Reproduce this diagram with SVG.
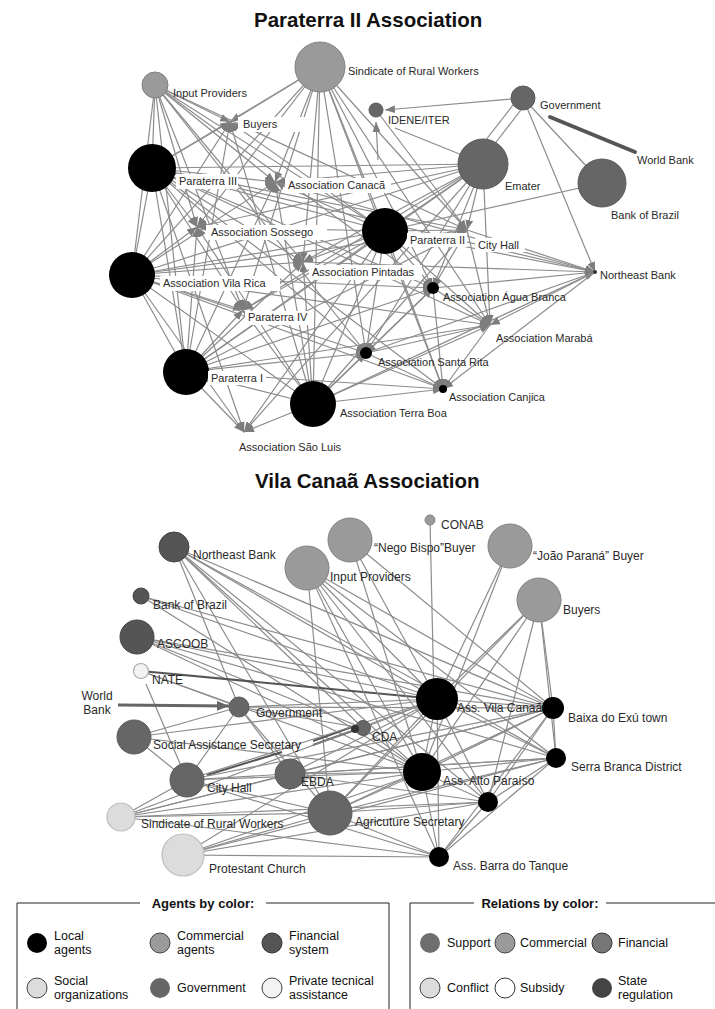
<svg xmlns="http://www.w3.org/2000/svg" width="715" height="1009" viewBox="0 0 715 1009">
<defs>
<marker id="arr" markerUnits="userSpaceOnUse" markerWidth="10" markerHeight="8" refX="10" refY="4" orient="auto"><path d="M0,0 L10,4 L0,8 Z" fill="#7d7d7d"/></marker>
<marker id="arrd" markerUnits="userSpaceOnUse" markerWidth="12" markerHeight="10" refX="12" refY="5" orient="auto"><path d="M0,0 L12,5 L0,10 Z" fill="#666"/></marker>
<style>
.t{font-family:"Liberation Sans",Arial,sans-serif;font-weight:bold;font-size:20.5px;fill:#111}
.l{font-family:"Liberation Sans",Arial,sans-serif;font-size:11px;fill:#2a2a2a}
.lb{font-family:"Liberation Sans",Arial,sans-serif;font-size:12px;fill:#2a2a2a}
.lg{font-family:"Liberation Sans",Arial,sans-serif;font-size:12.5px;fill:#111}
.lgt{font-family:"Liberation Sans",Arial,sans-serif;font-size:13px;font-weight:bold;fill:#111}
.e line{stroke:#8c8c8c;stroke-width:1.2;fill:none}
.e line.a{marker-end:url(#arr)}
.e line.d{stroke:#555;stroke-width:2}
.wb{fill:#fff}
.loc{fill:#000}
.com{fill:#9a9a9a;stroke:#808080;stroke-width:1}
.fin{fill:#555;stroke:#444;stroke-width:1}
.gov{fill:#666;stroke:#5a5a5a;stroke-width:1}
.soc{fill:#dcdcdc;stroke:#bdbdbd;stroke-width:1.2}
.pri{fill:#f3f3f3;stroke:#aaa;stroke-width:1.2}
.box{stroke:#222;stroke-width:1;fill:none}
</style>
</defs>
<rect width="715" height="1009" fill="#fff"/>
<text class="t" x="254" y="27">Paraterra II Association</text>
<text class="t" x="255" y="488">Vila Canaã Association</text>

<g id="connectors-top" class="e">
<line x1="320" y1="67" x2="230" y2="122" class="a"/>
<line x1="320" y1="67" x2="275" y2="182" class="a"/>
<line x1="320" y1="67" x2="197" y2="227" class="a"/>
<line x1="320" y1="67" x2="303" y2="262" class="a"/>
<line x1="320" y1="67" x2="385" y2="231"/>
<line x1="320" y1="67" x2="467" y2="230" class="a"/>
<line x1="320" y1="67" x2="243" y2="310" class="a"/>
<line x1="320" y1="67" x2="433" y2="288" class="a"/>
<line x1="320" y1="67" x2="490" y2="325" class="a"/>
<line x1="320" y1="67" x2="366" y2="353" class="a"/>
<line x1="320" y1="67" x2="152" y2="168"/>
<line x1="320" y1="67" x2="132" y2="275"/>
<line x1="320" y1="67" x2="443" y2="389" class="a"/>
<line x1="320" y1="67" x2="313" y2="404"/>
<line x1="155" y1="85" x2="230" y2="122" class="a"/>
<line x1="155" y1="85" x2="275" y2="182" class="a"/>
<line x1="155" y1="85" x2="197" y2="227" class="a"/>
<line x1="155" y1="85" x2="303" y2="262" class="a"/>
<line x1="155" y1="85" x2="243" y2="310" class="a"/>
<line x1="155" y1="85" x2="385" y2="231"/>
<line x1="155" y1="85" x2="366" y2="353" class="a"/>
<line x1="155" y1="85" x2="467" y2="230" class="a"/>
<line x1="155" y1="85" x2="433" y2="288" class="a"/>
<line x1="155" y1="85" x2="152" y2="168"/>
<line x1="155" y1="85" x2="132" y2="275"/>
<line x1="155" y1="85" x2="186" y2="372"/>
<line x1="152" y1="168" x2="230" y2="122" class="a"/>
<line x1="152" y1="168" x2="275" y2="182" class="a"/>
<line x1="152" y1="168" x2="197" y2="227" class="a"/>
<line x1="152" y1="168" x2="303" y2="262" class="a"/>
<line x1="152" y1="168" x2="243" y2="310" class="a"/>
<line x1="152" y1="168" x2="467" y2="230" class="a"/>
<line x1="152" y1="168" x2="433" y2="288" class="a"/>
<line x1="152" y1="168" x2="490" y2="325" class="a"/>
<line x1="152" y1="168" x2="366" y2="353" class="a"/>
<line x1="152" y1="168" x2="443" y2="389" class="a"/>
<line x1="152" y1="168" x2="244" y2="432" class="a"/>
<line x1="152" y1="168" x2="385" y2="231"/>
<line x1="152" y1="168" x2="132" y2="275"/>
<line x1="152" y1="168" x2="186" y2="372"/>
<line x1="152" y1="168" x2="595" y2="272" class="a"/>
<line x1="385" y1="231" x2="275" y2="182" class="a"/>
<line x1="385" y1="231" x2="197" y2="227" class="a"/>
<line x1="385" y1="231" x2="303" y2="262" class="a"/>
<line x1="385" y1="231" x2="243" y2="310" class="a"/>
<line x1="385" y1="231" x2="467" y2="230" class="a"/>
<line x1="385" y1="231" x2="433" y2="288" class="a"/>
<line x1="385" y1="231" x2="490" y2="325" class="a"/>
<line x1="385" y1="231" x2="366" y2="353" class="a"/>
<line x1="385" y1="231" x2="443" y2="389" class="a"/>
<line x1="385" y1="231" x2="244" y2="432" class="a"/>
<line x1="385" y1="231" x2="595" y2="272" class="a"/>
<line x1="378" y1="160" x2="376" y2="122" class="a"/>
<line x1="385" y1="231" x2="230" y2="122" class="a"/>
<line x1="385" y1="231" x2="132" y2="275"/>
<line x1="385" y1="231" x2="186" y2="372"/>
<line x1="385" y1="231" x2="313" y2="404"/>
<line x1="132" y1="275" x2="230" y2="122" class="a"/>
<line x1="132" y1="275" x2="275" y2="182" class="a"/>
<line x1="132" y1="275" x2="197" y2="227" class="a"/>
<line x1="132" y1="275" x2="303" y2="262" class="a"/>
<line x1="132" y1="275" x2="243" y2="310" class="a"/>
<line x1="132" y1="275" x2="467" y2="230" class="a"/>
<line x1="132" y1="275" x2="433" y2="288" class="a"/>
<line x1="132" y1="275" x2="490" y2="325" class="a"/>
<line x1="132" y1="275" x2="366" y2="353" class="a"/>
<line x1="132" y1="275" x2="443" y2="389" class="a"/>
<line x1="132" y1="275" x2="244" y2="432" class="a"/>
<line x1="132" y1="275" x2="186" y2="372"/>
<line x1="132" y1="275" x2="313" y2="404"/>
<line x1="186" y1="372" x2="275" y2="182" class="a"/>
<line x1="186" y1="372" x2="197" y2="227" class="a"/>
<line x1="186" y1="372" x2="303" y2="262" class="a"/>
<line x1="186" y1="372" x2="243" y2="310" class="a"/>
<line x1="186" y1="372" x2="467" y2="230" class="a"/>
<line x1="186" y1="372" x2="433" y2="288" class="a"/>
<line x1="186" y1="372" x2="490" y2="325" class="a"/>
<line x1="186" y1="372" x2="366" y2="353" class="a"/>
<line x1="186" y1="372" x2="443" y2="389" class="a"/>
<line x1="186" y1="372" x2="244" y2="432" class="a"/>
<line x1="186" y1="372" x2="313" y2="404"/>
<line x1="186" y1="372" x2="230" y2="122" class="a"/>
<line x1="313" y1="404" x2="275" y2="182" class="a"/>
<line x1="313" y1="404" x2="197" y2="227" class="a"/>
<line x1="313" y1="404" x2="303" y2="262" class="a"/>
<line x1="313" y1="404" x2="243" y2="310" class="a"/>
<line x1="313" y1="404" x2="467" y2="230" class="a"/>
<line x1="313" y1="404" x2="433" y2="288" class="a"/>
<line x1="313" y1="404" x2="490" y2="325" class="a"/>
<line x1="313" y1="404" x2="366" y2="353" class="a"/>
<line x1="313" y1="404" x2="443" y2="389" class="a"/>
<line x1="313" y1="404" x2="244" y2="432" class="a"/>
<line x1="313" y1="404" x2="595" y2="272" class="a"/>
<line x1="313" y1="404" x2="230" y2="122" class="a"/>
<line x1="483" y1="164" x2="385" y2="231"/>
<line x1="483" y1="164" x2="467" y2="230" class="a"/>
<line x1="483" y1="164" x2="275" y2="182" class="a"/>
<line x1="483" y1="164" x2="152" y2="168"/>
<line x1="483" y1="164" x2="303" y2="262" class="a"/>
<line x1="483" y1="164" x2="197" y2="227" class="a"/>
<line x1="483" y1="164" x2="433" y2="288" class="a"/>
<line x1="483" y1="164" x2="366" y2="353" class="a"/>
<line x1="483" y1="164" x2="243" y2="310" class="a"/>
<line x1="483" y1="164" x2="132" y2="275"/>
<line x1="483" y1="164" x2="490" y2="325" class="a"/>
<line x1="483" y1="164" x2="186" y2="372"/>
<line x1="483" y1="164" x2="244" y2="432" class="a"/>
<line x1="523" y1="98" x2="385" y2="110" class="a"/>
<line x1="517" y1="100" x2="478" y2="150"/>
<line x1="527" y1="102" x2="490" y2="150"/>
<line x1="523" y1="98" x2="602" y2="183"/>
<line x1="523" y1="98" x2="595" y2="272" class="a"/>
<line x1="376" y1="110" x2="467" y2="230" class="a"/>
<line x1="395" y1="128" x2="462" y2="155"/>
<line x1="602" y1="183" x2="385" y2="231"/>
<line x1="467" y1="230" x2="595" y2="272" class="a"/>
<line x1="433" y1="288" x2="595" y2="272" class="a"/>
<line x1="303" y1="262" x2="595" y2="272" class="a"/>
<line x1="366" y1="353" x2="595" y2="272" class="a"/>
<line x1="275" y1="182" x2="595" y2="272" class="a"/>
<line x1="595" y1="272" x2="490" y2="325" class="a"/>
<line x1="595" y1="272" x2="443" y2="389" class="a"/>
<line x1="433" y1="288" x2="490" y2="325" class="a"/>
<line x1="366" y1="353" x2="490" y2="325" class="a"/>
<line x1="366" y1="353" x2="443" y2="389" class="a"/>
<line x1="433" y1="288" x2="443" y2="389" class="a"/>
<line x1="433" y1="288" x2="366" y2="353" class="a"/>
<line x1="490" y1="325" x2="443" y2="389" class="a"/>
<line x1="467" y1="230" x2="433" y2="288" class="a"/>
<line x1="467" y1="230" x2="490" y2="325" class="a"/>
<line x1="550" y1="117" x2="635" y2="152" style="stroke:#555;stroke-width:4;stroke-linecap:round"/>
</g>

<g id="node-sindicate-top"><circle cx="320" cy="67" r="25" class="com"/><text class="l" x="348" y="75">Sindicate of Rural Workers</text></g>
<g id="node-input-providers-top"><circle cx="155" cy="85" r="13" class="com"/><text class="l" x="173" y="97">Input Providers</text></g>
<g id="node-buyers-top"><rect class="wb" x="238" y="117" width="75" height="15"/><text class="l" x="243" y="128">Buyers</text></g>
<g id="node-idene"><circle cx="376" cy="110" r="7" class="gov"/><text class="l" x="388" y="124">IDENE/ITER</text></g>
<g id="node-government-top"><circle cx="523" cy="98" r="12" class="gov"/><text class="l" x="540" y="109">Government</text></g>
<g id="node-world-bank-top"><text class="l" x="637" y="164">World Bank</text></g>
<g id="node-emater"><circle cx="483" cy="164" r="25" class="gov"/><text class="l" x="505" y="190">Emater</text></g>
<g id="node-bank-of-brazil-top"><circle cx="602" cy="183" r="24" class="gov"/><text class="l" x="611" y="219">Bank of Brazil</text></g>
<g id="node-paraterra-3"><circle cx="152" cy="168" r="24" class="loc"/><rect class="wb" x="176" y="174" width="62" height="15"/><text class="l" x="179" y="185">Paraterra III</text></g>
<g id="node-canaca"><rect class="wb" x="285" y="178" width="106" height="15"/><text class="l" x="288" y="189">Association Canacã</text></g>
<g id="node-paraterra-2"><circle cx="385" cy="231" r="23" class="loc"/><rect class="wb" x="407" y="233" width="60" height="14"/><text class="l" x="410" y="244">Paraterra II</text></g>
<g id="node-city-hall-top"><rect class="wb" x="475" y="238" width="50" height="14"/><text class="l" x="478" y="249">City Hall</text></g>
<g id="node-sossego"><rect class="wb" x="206" y="225" width="121" height="15"/><text class="l" x="211" y="236">Association Sossego</text></g>
<g id="node-vila-rica"><circle cx="132" cy="275" r="23" class="loc"/><rect class="wb" x="160" y="276" width="120" height="15"/><text class="l" x="163" y="287">Association Vila Rica</text></g>
<g id="node-pintadas"><rect class="wb" x="309" y="265" width="113" height="15"/><text class="l" x="312" y="276">Association Pintadas</text></g>
<g id="node-northeast-bank-top"><circle cx="595" cy="272" r="2" fill="#333"/><text class="l" x="600" y="279">Northeast Bank</text></g>
<g id="node-agua-branca"><circle cx="433" cy="288" r="6" class="loc"/><text class="l" x="443" y="301">Association Água Branca</text></g>
<g id="node-paraterra-4"><rect class="wb" x="245" y="311" width="66" height="14"/><text class="l" x="248" y="321">Paraterra IV</text></g>
<g id="node-maraba"><text class="l" x="496" y="342">Association Marabá</text></g>
<g id="node-paraterra-1"><circle cx="186" cy="372" r="23" class="loc"/><rect class="wb" x="208" y="371" width="58" height="14"/><text class="l" x="211" y="382">Paraterra I</text></g>
<g id="node-santa-rita"><circle cx="366" cy="353" r="6" class="loc"/><text class="l" x="378" y="366">Association Santa Rita</text></g>
<g id="node-terra-boa"><circle cx="313" cy="404" r="23" class="loc"/><text class="l" x="340" y="417">Association Terra Boa</text></g>
<g id="node-canjica"><circle cx="443" cy="389" r="4" class="loc"/><text class="l" x="449" y="401">Association Canjica</text></g>
<g id="node-sao-luis"><text class="l" x="239" y="451">Association São Luis</text></g>

<g id="connectors-bottom" class="e">
<line x1="174" y1="547" x2="437" y2="699"/>
<line x1="174" y1="547" x2="422" y2="772"/>
<line x1="174" y1="547" x2="553" y2="708"/>
<line x1="174" y1="547" x2="556" y2="758"/>
<line x1="174" y1="547" x2="488" y2="802"/>
<line x1="174" y1="547" x2="239" y2="707"/>
<line x1="174" y1="547" x2="330" y2="813"/>
<line x1="174" y1="547" x2="363" y2="728"/>
<line x1="141" y1="596" x2="437" y2="699"/>
<line x1="141" y1="596" x2="422" y2="772"/>
<line x1="141" y1="596" x2="553" y2="708"/>
<line x1="137" y1="637" x2="437" y2="699"/>
<line x1="137" y1="637" x2="422" y2="772"/>
<line x1="137" y1="637" x2="553" y2="708"/>
<line x1="137" y1="637" x2="363" y2="728"/>
<line x1="137" y1="637" x2="556" y2="758"/>
<line x1="141" y1="671" x2="437" y2="699" class="d"/>
<line x1="141" y1="671" x2="422" y2="772"/>
<line x1="146" y1="684" x2="187" y2="780"/>
<line x1="141" y1="671" x2="239" y2="707"/>
<line x1="307" y1="568" x2="437" y2="699"/>
<line x1="307" y1="568" x2="422" y2="772"/>
<line x1="307" y1="568" x2="553" y2="708"/>
<line x1="307" y1="568" x2="556" y2="758"/>
<line x1="307" y1="568" x2="488" y2="802"/>
<line x1="307" y1="568" x2="439" y2="857"/>
<line x1="307" y1="568" x2="330" y2="813"/>
<line x1="350" y1="540" x2="437" y2="699"/>
<line x1="350" y1="540" x2="422" y2="772"/>
<line x1="350" y1="540" x2="553" y2="708"/>
<line x1="430" y1="520" x2="434" y2="699"/>
<line x1="510" y1="546" x2="437" y2="699"/>
<line x1="510" y1="546" x2="422" y2="772"/>
<line x1="539" y1="600" x2="437" y2="699"/>
<line x1="539" y1="600" x2="422" y2="772"/>
<line x1="539" y1="600" x2="553" y2="708"/>
<line x1="539" y1="600" x2="556" y2="758"/>
<line x1="539" y1="600" x2="488" y2="802"/>
<line x1="539" y1="600" x2="330" y2="813"/>
<line x1="239" y1="707" x2="134" y2="737"/>
<line x1="239" y1="707" x2="187" y2="780"/>
<line x1="239" y1="707" x2="363" y2="728"/>
<line x1="239" y1="707" x2="330" y2="813"/>
<line x1="239" y1="707" x2="437" y2="699"/>
<line x1="239" y1="707" x2="290" y2="774"/>
<line x1="239" y1="707" x2="553" y2="708"/>
<line x1="134" y1="737" x2="437" y2="699"/>
<line x1="134" y1="737" x2="187" y2="780"/>
<line x1="134" y1="737" x2="422" y2="772"/>
<line x1="363" y1="728" x2="437" y2="699"/>
<line x1="363" y1="728" x2="422" y2="772"/>
<line x1="207" y1="775" x2="282" y2="752" class="d"/>
<line x1="313" y1="745" x2="352" y2="731" class="d"/>
<line x1="313" y1="741" x2="352" y2="727" class="d"/>
<line x1="187" y1="780" x2="437" y2="699"/>
<line x1="187" y1="780" x2="422" y2="772"/>
<line x1="187" y1="780" x2="553" y2="708"/>
<line x1="187" y1="780" x2="330" y2="813"/>
<line x1="187" y1="780" x2="439" y2="857"/>
<line x1="187" y1="780" x2="556" y2="758"/>
<line x1="290" y1="774" x2="437" y2="699"/>
<line x1="290" y1="774" x2="422" y2="772"/>
<line x1="290" y1="774" x2="553" y2="708"/>
<line x1="290" y1="774" x2="556" y2="758"/>
<line x1="290" y1="774" x2="488" y2="802"/>
<line x1="121" y1="817" x2="437" y2="699"/>
<line x1="121" y1="817" x2="422" y2="772"/>
<line x1="121" y1="817" x2="330" y2="813"/>
<line x1="121" y1="817" x2="290" y2="774"/>
<line x1="121" y1="817" x2="187" y2="780"/>
<line x1="121" y1="817" x2="553" y2="708"/>
<line x1="121" y1="817" x2="488" y2="802"/>
<line x1="121" y1="817" x2="439" y2="857"/>
<line x1="330" y1="813" x2="437" y2="699"/>
<line x1="330" y1="813" x2="422" y2="772"/>
<line x1="330" y1="813" x2="553" y2="708"/>
<line x1="330" y1="813" x2="556" y2="758"/>
<line x1="330" y1="813" x2="488" y2="802"/>
<line x1="330" y1="813" x2="439" y2="857"/>
<line x1="183" y1="855" x2="439" y2="857"/>
<line x1="183" y1="855" x2="422" y2="772"/>
<line x1="183" y1="855" x2="437" y2="699"/>
<line x1="183" y1="855" x2="488" y2="802"/>
<line x1="183" y1="855" x2="330" y2="813"/>
<line x1="183" y1="855" x2="556" y2="758"/>
<line x1="437" y1="699" x2="422" y2="772"/>
<line x1="437" y1="699" x2="553" y2="708"/>
<line x1="437" y1="699" x2="556" y2="758"/>
<line x1="437" y1="699" x2="488" y2="802"/>
<line x1="437" y1="699" x2="439" y2="857"/>
<line x1="422" y1="772" x2="553" y2="708"/>
<line x1="422" y1="772" x2="556" y2="758"/>
<line x1="422" y1="772" x2="488" y2="802"/>
<line x1="422" y1="772" x2="439" y2="857"/>
<line x1="553" y1="708" x2="556" y2="758"/>
<line x1="553" y1="708" x2="488" y2="802"/>
<line x1="553" y1="708" x2="439" y2="857"/>
<line x1="556" y1="758" x2="488" y2="802"/>
<line x1="556" y1="758" x2="439" y2="857"/>
<line x1="488" y1="802" x2="439" y2="857"/>
<line x1="118" y1="705" x2="229" y2="706" style="stroke:#666;stroke-width:3;marker-end:url(#arrd)"/>
</g>

<g id="node-conab"><circle cx="430" cy="520" r="5" class="com"/><text class="lb" x="441" y="529">CONAB</text></g>
<g id="node-nego-bispo"><circle cx="350" cy="540" r="22" class="com"/><text class="lb" x="374" y="552">“Nego Bispo”Buyer</text></g>
<g id="node-joao-parana"><circle cx="510" cy="546" r="22" class="com"/><text class="lb" x="533" y="560">“João Paraná” Buyer</text></g>
<g id="node-input-providers-bottom"><circle cx="307" cy="568" r="22" class="com"/><text class="lb" x="330" y="581">Input Providers</text></g>
<g id="node-northeast-bank-bottom"><circle cx="174" cy="547" r="15" class="fin"/><text class="lb" x="193" y="559">Northeast Bank</text></g>
<g id="node-bank-of-brazil-bottom"><circle cx="141" cy="596" r="8" class="fin"/><text class="lb" x="153" y="609">Bank of Brazil</text></g>
<g id="node-buyers-bottom"><circle cx="539" cy="600" r="22" class="com"/><text class="lb" x="563" y="614">Buyers</text></g>
<g id="node-ascoob"><circle cx="137" cy="637" r="17" class="fin"/><text class="lb" x="157" y="648">ASCOOB</text></g>
<g id="node-nate"><circle cx="141" cy="671" r="7.5" class="pri"/><text class="lb" x="152" y="684">NATE</text></g>
<g id="node-world-bank-bottom"><text class="lb" x="97" y="700" text-anchor="middle">World</text><text class="lb" x="97" y="714" text-anchor="middle">Bank</text></g>
<g id="node-government-bottom"><circle cx="239" cy="707" r="10" class="gov"/><text class="lb" x="256" y="717">Government</text></g>
<g id="node-social-assistance"><circle cx="134" cy="737" r="17" class="gov"/><text class="lb" x="153" y="749">Social Assistance Secretary</text></g>
<g id="node-cda"><circle cx="363" cy="728" r="7.5" class="gov"/><circle cx="355" cy="729" r="4" fill="#333"/><text class="lb" x="372" y="741">CDA</text></g>
<g id="node-vila-canaa"><circle cx="437" cy="699" r="21" class="loc"/><text class="lb" x="457" y="712">Ass. Vila Canaã</text></g>
<g id="node-baixa"><circle cx="553" cy="708" r="11" class="loc"/><text class="lb" x="568" y="722">Baixa do Exú town</text></g>
<g id="node-serra-branca"><circle cx="556" cy="758" r="10" class="loc"/><text class="lb" x="571" y="771">Serra Branca District</text></g>
<g id="node-city-hall-bottom"><circle cx="187" cy="780" r="17" class="gov"/><text class="lb" x="207" y="792">City Hall</text></g>
<g id="node-ebda"><circle cx="290" cy="774" r="15" class="gov"/><text class="lb" x="301" y="786">EBDA</text></g>
<g id="node-alto-paraiso"><circle cx="422" cy="772" r="19" class="loc"/><text class="lb" x="443" y="785">Ass. Alto Paraíso</text></g>
<g id="node-sindicate-bottom"><circle cx="121" cy="817" r="14" class="soc"/><text class="lb" x="141" y="828">Sindicate of Rural Workers</text></g>
<g id="node-agriculture"><circle cx="330" cy="813" r="22" class="gov"/><text class="lb" x="355" y="826">Agricuture Secretary</text></g>
<g id="node-local-unnamed"><circle cx="488" cy="802" r="10" class="loc"/></g>
<g id="node-protestant"><circle cx="183" cy="855" r="21" class="soc"/><text class="lb" x="209" y="873">Protestant Church</text></g>
<g id="node-barra"><circle cx="439" cy="857" r="10" class="loc"/><text class="lb" x="453" y="870">Ass. Barra do Tanque</text></g>

<g id="legend-agents">
<path class="box" d="M140,903 H17 V1009 M266,903 H389 V1009"/>
<text class="lgt" x="203" y="908" text-anchor="middle">Agents by color:</text>
<circle cx="37" cy="943" r="10" class="loc"/><text class="lg" x="54" y="940">Local</text><text class="lg" x="54" y="954">agents</text>
<circle cx="160" cy="943" r="10" fill="#9a9a9a" stroke="#444"/><text class="lg" x="177" y="940">Commercial</text><text class="lg" x="177" y="954">agents</text>
<circle cx="272" cy="943" r="10" fill="#555" stroke="#333"/><text class="lg" x="289" y="940">Financial</text><text class="lg" x="289" y="954">system</text>
<circle cx="37" cy="988" r="10" fill="#dcdcdc" stroke="#444"/><text class="lg" x="54" y="985">Social</text><text class="lg" x="54" y="999">organizations</text>
<circle cx="160" cy="988" r="10" fill="#666"/><text class="lg" x="177" y="992">Government</text>
<circle cx="272" cy="988" r="10" fill="#f3f3f3" stroke="#444"/><text class="lg" x="289" y="985">Private tecnical</text><text class="lg" x="289" y="999">assistance</text>
</g>
<g id="legend-relations">
<path class="box" d="M474,903 H410 V1009 M606,903 H715"/>
<text class="lgt" x="540" y="908" text-anchor="middle">Relations by color:</text>
<circle cx="430" cy="943" r="10" fill="#6e6e6e"/><text class="lg" x="447" y="947">Support</text>
<circle cx="505" cy="943" r="10" fill="#9a9a9a" stroke="#444"/><text class="lg" x="520" y="947">Commercial</text>
<circle cx="602" cy="943" r="10" fill="#777" stroke="#333"/><text class="lg" x="618" y="947">Financial</text>
<circle cx="430" cy="988" r="10" fill="#dcdcdc" stroke="#444"/><text class="lg" x="447" y="992">Conflict</text>
<circle cx="505" cy="988" r="10" fill="#fff" stroke="#333"/><text class="lg" x="520" y="992">Subsidy</text>
<circle cx="602" cy="988" r="10" fill="#444"/><text class="lg" x="618" y="985">State</text><text class="lg" x="618" y="999">regulation</text>
</g>
</svg>
